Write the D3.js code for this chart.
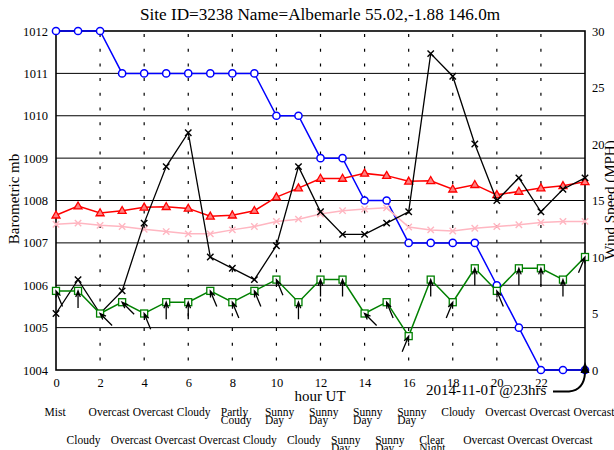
<!DOCTYPE html>
<html><head><meta charset="utf-8">
<script src="https://cdn.jsdelivr.net/npm/d3@7"></script>
<style>
body{margin:0;background:#fff;}
svg{display:block;font-family:"Liberation Serif","DejaVu Serif",serif;}
</style></head>
<body><svg id="c" width="614" height="450"></svg>
<script>
const hours = d3.range(0, 25);
const pressure = [1012,1012,1012,1011,1011,1011,1011,1011,1011,1011,1010,1010,1009,1009,1008,1008,1007,1007,1007,1007,1006,1005,1004,1004,1004];
const temperature = [13.7,14.5,13.9,14.1,14.4,14.45,14.3,13.6,13.7,14.1,15.3,16.1,16.95,16.95,17.4,17.2,16.7,16.75,16.0,16.4,15.5,15.8,16.1,16.3,16.65];
const dewPoint = [12.9,13.0,12.8,12.7,12.45,12.25,12.05,12.05,12.4,12.7,13.15,13.35,13.8,14.1,14.25,14.35,12.65,12.4,12.3,12.55,12.7,12.85,13.05,13.15,13.15];
const gust = [5,8,5,7,13,18,21,10,9,8,11,18,14,12,12,13,14,28,26,20,15,17,14,16,17];
const windSpeed = [7,7,5,6,5,6,6,7,6,7,8,6,8,8,5,6,3,8,6,9,7,9,9,8,10];
const windDir = [157.5,180,135,135,157.5,180,180,157.5,157.5,157.5,157.5,180,180,180,135,157.5,202.5,180,202.5,180,157.5,180,180,180,202.5];
const weather = ["Mist","Cloudy","Overcast","Overcast","Overcast","Overcast","Cloudy","Overcast","Partly|Coudy","Cloudy","Sunny|Day","Cloudy","Sunny|Day","Sunny|Day","Sunny|Day","Sunny|Day","Sunny|Day","Clear|Night","Cloudy","Overcast","Overcast","Overcast","Overcast","Overcast","Overcast"];
const xTicks = d3.range(0, 23, 2);
const yLeftTicks = d3.range(1004, 1013, 1);
const yRightTicks = d3.range(0, 31, 5);
const titleText = "Site ID=3238 Name=Albemarle 55.02,-1.88 146.0m";
const leftLabel = "Barometric mb";
const rightLabel = "Wind Speed (MPH)";
const xLabel = "hour UT";
const noteText = "2014-11-01 @23hrs";

const svg = d3.select("#c");
const L = 56, R = 585, T = 31, B = 370;
const x = d3.scaleLinear().domain([0, 24]).range([L, R]);
const yL = d3.scaleLinear().domain([1004, 1012]).range([B, T]);
const yR = d3.scaleLinear().domain([0, 30]).range([B, T]);

// grid
svg.append("g").selectAll("line").data(yLeftTicks.slice(1, -1)).join("line")
  .attr("x1", L).attr("x2", R).attr("y1", d => yL(d)).attr("y2", d => yL(d))
  .attr("stroke", "#000").attr("stroke-width", 1);
svg.append("g").selectAll("line").data(xTicks.slice(1)).join("line")
  .attr("x1", d => x(d)).attr("x2", d => x(d)).attr("y1", T).attr("y2", B)
  .attr("stroke", "#000").attr("stroke-width", 1.2).attr("stroke-dasharray", "3,11.7")
  .attr("stroke-dashoffset", -3);

// axes
const gx = svg.append("g").attr("transform", `translate(0,${B})`)
  .call(d3.axisBottom(x).tickValues(xTicks).tickSize(0).tickPadding(8));
const gl = svg.append("g").attr("transform", `translate(${L},0)`)
  .call(d3.axisLeft(yL).tickValues(yLeftTicks).tickSize(0).tickPadding(8).tickFormat(d3.format("d")));
const gr = svg.append("g").attr("transform", `translate(${R},0)`)
  .call(d3.axisRight(yR).tickValues(yRightTicks).tickSize(0).tickPadding(7));
[gx, gl, gr].forEach(g => {
  g.select(".domain").remove();
  g.selectAll("text").attr("font-family", "Liberation Serif").attr("font-size", 12.5).attr("fill", "#000");
});

// border
svg.append("rect").attr("x", L).attr("y", T).attr("width", R - L).attr("height", B - T)
  .attr("fill", "none").attr("stroke", "#000").attr("stroke-width", 1.6);

// series
function lineFor(arr, ys) {
  return d3.line().x((d, i) => x(hours[i])).y(d => ys(d))(arr);
}
// pressure blue
svg.append("path").attr("d", lineFor(pressure, yL)).attr("fill", "none").attr("stroke", "#0000ff").attr("stroke-width", 1.5);
svg.append("g").selectAll("circle").data(pressure).join("circle")
  .attr("cx", (d, i) => x(hours[i])).attr("cy", d => yL(d)).attr("r", 3.6)
  .attr("fill", "#fff").attr("stroke", "#0000ff").attr("stroke-width", 1.5);

// dew point pink
svg.append("path").attr("d", lineFor(dewPoint, yR)).attr("fill", "none").attr("stroke", "#ffb6c1").attr("stroke-width", 1.5);
function crosses(arr, color, sw) {
  const g = svg.append("g");
  arr.forEach((d, i) => {
    const cx = x(hours[i]), cy = yR(d), s = 3.2;
    g.append("path").attr("d", `M${cx - s},${cy - s}L${cx + s},${cy + s}M${cx - s},${cy + s}L${cx + s},${cy - s}`)
      .attr("stroke", color).attr("stroke-width", sw);
  });
}
crosses(dewPoint, "#ffb6c1", 1.4);

// temperature red
svg.append("path").attr("d", lineFor(temperature, yR)).attr("fill", "none").attr("stroke", "#ff0000").attr("stroke-width", 1.5);
svg.append("g").selectAll("path").data(temperature).join("path")
  .attr("d", (d, i) => { const cx = x(hours[i]), cy = yR(d); return `M${cx},${cy - 4.2}L${cx + 4},${cy + 2.8}L${cx - 4},${cy + 2.8}Z`; })
  .attr("fill", "#ff8080").attr("stroke", "#ff0000").attr("stroke-width", 1.3);

// gust black
svg.append("path").attr("d", lineFor(gust, yR)).attr("fill", "none").attr("stroke", "#000").attr("stroke-width", 1.3);
crosses(gust, "#000", 1.4);

// wind speed green
svg.append("path").attr("d", lineFor(windSpeed, yR)).attr("fill", "none").attr("stroke", "#008000").attr("stroke-width", 1.5);
svg.append("g").selectAll("rect").data(windSpeed).join("rect")
  .attr("x", (d, i) => x(hours[i]) - 3.5).attr("y", d => yR(d) - 3.5).attr("width", 7).attr("height", 7)
  .attr("fill", "#fff").attr("stroke", "#008000").attr("stroke-width", 1.3);

// wind arrows
const ag = svg.append("g");
windSpeed.forEach((d, i) => {
  const tx = x(hours[i]), ty = yR(d), len = 17;
  const rad = windDir[i] * Math.PI / 180;
  const ux = Math.sin(rad), uy = -Math.cos(rad); // from tip toward tail
  const sx = tx + len * ux, sy = ty + len * uy;
  const hl = 6.5, ha = 0.36;
  const a = Math.atan2(uy, ux);
  const h1x = tx + hl * Math.cos(a + ha), h1y = ty + hl * Math.sin(a + ha);
  const h2x = tx + hl * Math.cos(a - ha), h2y = ty + hl * Math.sin(a - ha);
  ag.append("path").attr("d", `M${sx},${sy}L${tx},${ty}M${h1x},${h1y}L${tx},${ty}L${h2x},${h2y}`)
    .attr("fill", "none").attr("stroke", "#000").attr("stroke-width", 1.3);
});

// title
svg.append("text").attr("x", 320).attr("y", 20).attr("text-anchor", "middle")
  .attr("font-size", 17.2).text(titleText);
// axis labels
svg.append("text").attr("transform", "translate(19,199) rotate(-90)").attr("text-anchor", "middle")
  .attr("font-size", 15).text(leftLabel);
svg.append("text").attr("transform", "translate(615,200) rotate(-90)").attr("text-anchor", "middle")
  .attr("font-size", 15).text(rightLabel);
svg.append("text").attr("x", 320).attr("y", 401).attr("text-anchor", "middle")
  .attr("font-size", 15).text(xLabel);

// weather labels
const wg = svg.append("g").attr("font-size", 11.5);
weather.forEach((w, i) => {
  const parts = w.split("|");
  const base = i % 2 === 0 ? 416 : 444;
  const t = wg.append("text").attr("x", x(hours[i]) - 11.5).attr("y", base);
  parts.forEach((p, k) => {
    t.append("tspan").attr("x", x(hours[i]) - 11.5).attr("y", base + k * 7.5).text(p);
  });
});

// annotation
svg.append("text").attr("x", 426).attr("y", 395).attr("font-size", 15).text(noteText);
svg.append("path").attr("d", `M553,391.5L569,391.5Q584,390 585,373`)
  .attr("fill", "none").attr("stroke", "#000").attr("stroke-width", 2);
svg.append("path").attr("d", `M585,362L589.5,373L580.5,373Z`).attr("fill", "#000");
</script></body></html>
